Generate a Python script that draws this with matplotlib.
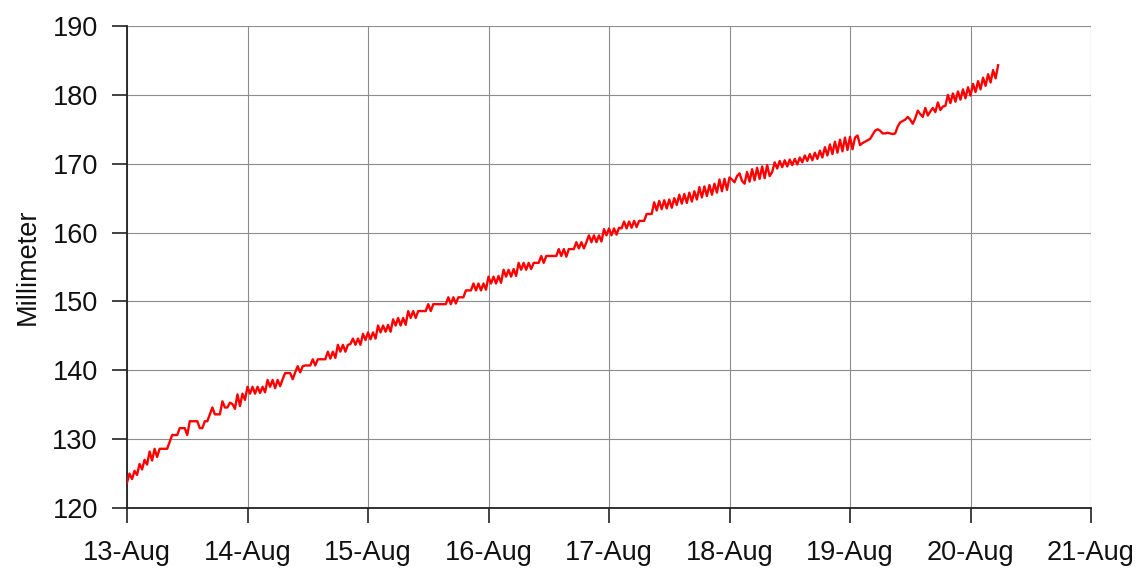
import numpy as np
import matplotlib
matplotlib.use("Agg")
import matplotlib.pyplot as plt
import matplotlib.dates as mdates
from datetime import datetime, timedelta

plt.rcParams['font.family'] = ['Liberation Sans', 'DejaVu Sans']

# Readings every 30 minutes starting 13-Aug 00:00 (mm)
step_hours = 0.5
mm = [
    123.7, 125.0, 124.2, 125.4, 124.8, 126.4, 125.6, 127.0, 126.3, 128.2, 126.9, 128.6,
    127.4, 128.6, 128.6, 128.6, 128.6, 129.6, 130.6, 130.6, 130.6, 131.6, 131.6, 131.6,
    130.6, 132.6, 132.6, 132.6, 132.6, 131.6, 131.6, 132.6, 132.6, 133.6, 134.6, 133.6,
    133.6, 133.6, 135.5, 134.6, 134.6, 135.3, 135.1, 134.4, 136.5, 134.8, 136.6, 135.7,
    137.6, 136.6, 137.6, 136.6, 137.6, 136.7, 137.6, 136.8, 138.6, 137.6, 138.6, 137.4,
    138.6, 137.7, 138.7, 139.6, 139.6, 139.6, 138.7, 139.7, 140.6, 139.7, 140.6, 140.7,
    140.7, 140.7, 141.6, 140.7, 141.6, 141.6, 141.6, 141.6, 142.7, 141.7, 142.7, 141.8,
    143.7, 142.7, 143.7, 142.7, 143.7, 143.8, 144.6, 143.7, 144.6, 143.7, 145.3, 144.4,
    145.5, 144.5, 145.5, 144.6, 146.5, 145.5, 146.5, 145.6, 146.6, 145.6, 147.4, 146.5,
    147.6, 146.5, 147.6, 146.6, 148.6, 147.6, 148.6, 147.6, 148.6, 148.6, 148.6, 148.6,
    149.6, 148.6, 149.6, 149.6, 149.6, 149.6, 149.6, 149.6, 150.6, 149.6, 150.6, 149.7,
    150.6, 150.6, 150.6, 151.6, 151.6, 151.6, 152.6, 151.6, 152.6, 151.6, 152.6, 151.7,
    153.6, 152.6, 153.6, 152.6, 153.7, 152.7, 154.6, 153.6, 154.6, 153.6, 154.7, 153.7,
    155.6, 154.6, 155.6, 154.6, 155.6, 154.7, 155.6, 155.6, 155.6, 156.6, 155.6, 156.6,
    156.6, 156.6, 156.6, 156.6, 157.6, 156.6, 157.6, 156.5, 157.6, 157.6, 157.6, 158.6,
    157.7, 158.6, 157.7, 158.6, 159.6, 158.6, 159.6, 158.6, 159.6, 158.7, 160.5, 159.6,
    160.6, 159.6, 160.6, 159.7, 160.7, 160.6, 161.6, 160.6, 161.6, 160.7, 161.7, 160.8,
    161.7, 161.7, 161.7, 162.7, 162.7, 162.7, 164.4, 163.2, 164.6, 163.4, 164.7, 163.5,
    164.8, 163.6, 165.0, 164.0, 165.5, 164.2, 165.6, 164.3, 165.8, 164.5, 166.0, 164.8,
    166.6, 165.1, 166.7, 165.3, 166.9, 165.5, 167.1, 165.8, 167.7, 166.0, 167.8, 166.2,
    168.0, 167.7, 167.3, 168.2, 168.6, 167.5, 167.1, 168.8, 167.4, 169.2, 167.6, 169.4,
    167.8, 169.6, 167.9, 169.8, 168.2, 168.8, 170.2, 169.3, 170.4, 169.5, 170.5, 169.6,
    170.6, 169.8, 170.7, 169.9, 170.9, 170.2, 171.2, 170.4, 171.4, 170.5, 171.6, 170.7,
    171.9, 170.9, 172.4, 171.2, 172.8, 171.4, 173.2, 171.6, 173.5, 171.8, 173.8, 172.0,
    173.9, 172.1, 173.8, 174.1, 172.7, 173.0, 173.2, 173.4, 173.6, 174.2, 174.8, 175.0,
    174.8, 174.4, 174.4, 174.5, 174.4, 174.3, 174.4, 175.4, 176.0, 176.2, 176.4, 176.8,
    176.4, 175.8, 176.6, 177.7, 177.2, 176.8, 178.1, 177.0, 177.6, 178.1, 177.5, 178.9,
    177.8, 178.3, 178.4, 180.0, 178.8, 180.2, 179.0, 180.5, 179.3, 180.8, 179.5, 181.1,
    179.9, 181.6, 180.4, 182.0, 180.8, 182.5, 181.3, 183.0, 181.8, 183.6, 182.4, 184.3,
]
start = datetime(2019, 8, 13)
times = [start + timedelta(hours=i * step_hours) for i in range(len(mm))]

y_ticks = [120, 130, 140, 150, 160, 170, 180, 190]
x_tick_days = [datetime(2019, 8, d) for d in range(13, 22)]
y_label = "Millimeter"

fig = plt.figure(figsize=(11.4, 5.72), dpi=100)
ax = fig.add_axes([127/1140, 1 - 508/572, (1091 - 127)/1140, (508 - 26)/572])

ax.plot(times, mm, color='#ff0000', linewidth=1.7, zorder=3)

ax.set_xlim(x_tick_days[0], x_tick_days[-1])
ax.set_ylim(120, 190)
ax.set_yticks(y_ticks)
ax.set_xticks(x_tick_days)
ax.xaxis.set_major_formatter(mdates.DateFormatter('%-d-%b'))

ax.grid(True, color='#8c8c8c', linewidth=0.8)
ax.set_axisbelow(True)
for s in ['top', 'right']:
    ax.spines[s].set_visible(False)
for s in ['left', 'bottom']:
    ax.spines[s].set_linewidth(1.3)
    ax.spines[s].set_color('#222222')

ax.tick_params(axis='both', direction='out', length=11, width=1.2,
               color='#222222', labelsize=19.5, labelcolor='#111111')
ax.tick_params(axis='x', pad=12)
ax.tick_params(axis='y', pad=10)

fig.text(28/1140, 1 - 267/572, y_label, rotation=90, ha='center', va='center',
         fontsize=19.5, color='#111111')

fig.savefig('out.png', dpi=100)
